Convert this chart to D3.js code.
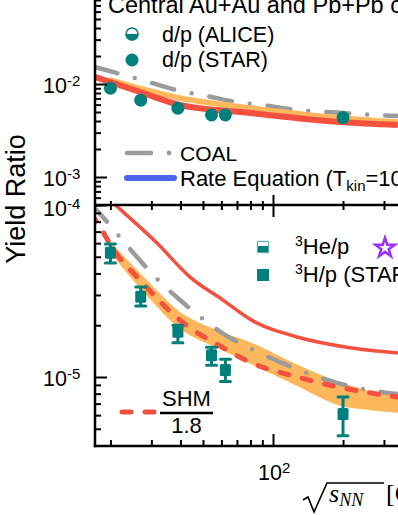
<!DOCTYPE html>
<html><head><meta charset="utf-8">
<script src="https://cdn.jsdelivr.net/npm/d3@7"></script>
<style>html,body{margin:0;padding:0;background:#fff;overflow:hidden}svg{display:block}</style>
</head><body>
<svg id="c" width="398" height="515"></svg>
<script>
// ---------- data ----------
const starEnergies = [20, 27, 39, 54.4, 62.4, 200];
const dpStar = [9.0e-3, 6.7e-3, 5.5e-3, 4.65e-3, 4.65e-3, 4.35e-3];
const h3pStar = [5.27e-5, 2.93e-5, 1.83e-5, 1.34e-5, 1.10e-5, 6.1e-6];
const h3pErrLo = [4.60e-5, 2.59e-5, 1.58e-5, 1.17e-5, 9.4e-6, 4.55e-6];
const h3pErrHi = [5.93e-5, 3.34e-5, 2.00e-5, 1.49e-5, 1.27e-5, 7.66e-6];

// top panel curves (d/p)
const topRedE = [17.2, 26.8, 39.8, 79.6, 194, 344];
const topRed  = [1.19e-2, 8.2e-3, 5.94e-3, 4.88e-3, 3.9e-3, 3.62e-3];
const topOrE  = [20, 39.8, 79.6, 194, 344];
const topOr   = [1.10e-2, 7.06e-3, 5.52e-3, 4.31e-3, 3.9e-3];
const topCoalE = [17.2, 21.4, 28.2, 38.3, 50.9, 69.4, 93.3, 126.8, 170.6, 229.6, 344];
const topCoal  = [1.52e-2, 1.31e-2, 1.08e-2, 8.61e-3, 7.52e-3, 6.4e-3, 5.87e-3, 5.25e-3, 5.0e-3, 4.76e-3, 4.53e-3];

// bottom panel curves (3H/p)
const botRedE = [17.2, 21, 31.7, 44, 61, 79.6, 130.6, 214, 344];
const botRed  = [1.27e-4, 1.0e-4, 6.01e-5, 3.81e-5, 2.80e-5, 2.17e-5, 1.69e-5, 1.48e-5, 1.38e-5];
const botCoalE = [16.5, 17.9, 21.4, 26.0, 31.7, 39.4, 50, 63.4, 82, 109, 144, 190, 251, 344];
const botCoal  = [1.0e-4, 8.98e-5, 6.78e-5, 4.99e-5, 3.72e-5, 2.84e-5, 2.17e-5, 1.73e-5, 1.44e-5, 1.21e-5, 1.04e-5, 9.22e-6, 8.46e-6, 7.96e-6];
const shmE = [16.5, 17.5, 20.6, 26.8, 39.8, 61, 79.6, 126.8, 200, 344];
const shm  = [8.9e-5, 7.96e-5, 5.51e-5, 3.66e-5, 2.14e-5, 1.48e-5, 1.22e-5, 1.0e-5, 8.63e-6, 7.65e-6];
const bandE  = [20, 26.8, 39.8, 61, 79.6, 126.8, 194, 253, 344];
const bandHi = [6.01e-5, 3.97e-5, 2.36e-5, 1.80e-5, 1.58e-5, 1.17e-5, 9.22e-6, 8.30e-6, 7.76e-6];
const bandLo = [5.33e-5, 3.34e-5, 1.93e-5, 1.44e-5, 1.21e-5, 8.98e-6, 6.87e-6, 6.51e-6, 6.26e-6];

const xTickVals = [20, 30, 40, 50, 60, 70, 80, 90, 100, 200, 300];
const topTickVals = [5e-4,6e-4,7e-4,8e-4,9e-4,1e-3,2e-3,3e-3,4e-3,5e-3,6e-3,7e-3,8e-3,9e-3,1e-2,2e-2,3e-2,4e-2,5e-2,6e-2,7e-2,8e-2,9e-2,1e-1];
const botTickVals = [5e-6,6e-6,7e-6,8e-6,9e-6,1e-5,2e-5,3e-5,4e-5,5e-5,6e-5,7e-5,8e-5,9e-5,1e-4];
const topLabels = [{v:1e-1,e:"-1"},{v:1e-2,e:"-2"},{v:1e-3,e:"-3"}];
const botLabels = [{v:1e-4,e:"-4"},{v:1e-5,e:"-5"}];

// ---------- style ----------
const TEAL = "#00807b", RED = "#f4503f", ORANGE = "#fdb75c", GRAY = "#9b9b9b", BLUE = "#4a63f0", PURPLE = "#9b30ff";
const FONT = "Liberation Sans, Arial, sans-serif";

const svg = d3.select("#c");
svg.append("rect").attr("width",398).attr("height",515).attr("fill","#fff");

const X0 = 95, X1 = 398, YT0 = -9, YMID = 205, YB1 = 446;
const x = d3.scaleLog().domain([Math.pow(10, 2 - 178/232.6), Math.pow(10, 2 + 125/232.6)]).range([X0, X1]);
const yTop = d3.scaleLog().domain([5e-4, 1e-1]).range([YMID, YT0]);
const yBot = d3.scaleLog().domain([Math.pow(10, -5 - 69/172), 1e-4]).range([YB1, YMID]);

const defs = svg.append("defs");
defs.append("clipPath").attr("id","clipTop").append("rect").attr("x",X0).attr("y",-20).attr("width",400).attr("height",YMID+20);
defs.append("clipPath").attr("id","clipBot").append("rect").attr("x",X0).attr("y",YMID).attr("width",400).attr("height",YB1-YMID);

const gTop = svg.append("g").attr("clip-path","url(#clipTop)");
const gBot = svg.append("g").attr("clip-path","url(#clipBot)");

function line(ys){ return d3.line().x(d=>x(d[0])).y(d=>ys(d[1])).curve(d3.curveMonotoneX); }
const zip = (a,b)=>a.map((v,i)=>[v,b[i]]);

// ---------- top panel ----------
gTop.append("path").attr("d", line(yTop)(zip(topCoalE, topCoal))).attr("fill","none")
  .attr("stroke",GRAY).attr("stroke-width",4.5).attr("stroke-linecap","round").attr("stroke-dasharray","23 18 0 18");
gTop.append("path").attr("d", line(yTop)(zip(topOrE, topOr))).attr("fill","none")
  .attr("stroke",ORANGE).attr("stroke-width",5.5).attr("stroke-linecap","round");
gTop.append("path").attr("d", line(yTop)(zip(topRedE, topRed))).attr("fill","none")
  .attr("stroke",RED).attr("stroke-width",6);
gTop.selectAll("circle.dp").data(zip(starEnergies, dpStar)).enter().append("circle")
  .attr("cx",d=>x(d[0])).attr("cy",d=>yTop(d[1])).attr("r",6.5).attr("fill",TEAL);

// ---------- bottom panel ----------
const area = d3.area().x(d=>x(d[0])).y0(d=>yBot(d[1])).y1(d=>yBot(d[2])).curve(d3.curveMonotoneX);
gBot.append("path").attr("d", area(bandE.map((e,i)=>[e,bandLo[i],bandHi[i]]))).attr("fill",ORANGE).attr("stroke",ORANGE).attr("stroke-width",1.5);
gBot.append("path").attr("d", line(yBot)(zip(botRedE, botRed))).attr("fill","none")
  .attr("stroke",RED).attr("stroke-width",3.5);
gBot.append("path").attr("d", line(yBot)(zip(botCoalE, botCoal))).attr("fill","none")
  .attr("stroke",GRAY).attr("stroke-width",4.5).attr("stroke-linecap","round").attr("stroke-dasharray","23 18 0 18");
gBot.append("path").attr("d", line(yBot)(zip(shmE, shm))).attr("fill","none")
  .attr("stroke",RED).attr("stroke-width",5).attr("stroke-linecap","round").attr("stroke-dasharray","9 14");

const pts = starEnergies.map((e,i)=>({e, v:h3pStar[i], lo:h3pErrLo[i], hi:h3pErrHi[i]}));
const pg = gBot.selectAll("g.pt").data(pts).enter().append("g");
pg.append("line").attr("x1",d=>x(d.e)).attr("x2",d=>x(d.e)).attr("y1",d=>yBot(d.lo)).attr("y2",d=>yBot(d.hi)).attr("stroke",TEAL).attr("stroke-width",3);
pg.append("line").attr("x1",d=>x(d.e)-5).attr("x2",d=>x(d.e)+5).attr("y1",d=>yBot(d.lo)).attr("y2",d=>yBot(d.lo)).attr("stroke",TEAL).attr("stroke-width",3).attr("stroke-linecap","round");
pg.append("line").attr("x1",d=>x(d.e)-5).attr("x2",d=>x(d.e)+5).attr("y1",d=>yBot(d.hi)).attr("y2",d=>yBot(d.hi)).attr("stroke",TEAL).attr("stroke-width",3).attr("stroke-linecap","round");
pg.append("rect").attr("x",d=>x(d.e)-5.5).attr("y",d=>yBot(d.v)-6).attr("width",11).attr("height",12).attr("rx",1.5).attr("fill",TEAL);

// ---------- axes ----------
const axG = svg.append("g");
function styleAxis(g, majorFn, majLen, minLen, dir){
  g.select(".domain").remove();
  g.selectAll(".tick line").attr("stroke","#000").attr("stroke-width",2)
   .each(function(d){ const L = majorFn(d) ? majLen : minLen; const s=d3.select(this);
     if(dir==="x") s.attr("x2", L); else s.attr("y2", L); });
  g.selectAll(".tick text").remove();
}
const isDecade = v => Math.abs(Math.log10(v) - Math.round(Math.log10(v))) < 1e-6;

const ylT = axG.append("g").attr("transform",`translate(${X0},0)`).call(d3.axisRight(yTop).tickValues(topTickVals).tickFormat(""));
styleAxis(ylT, isDecade, 12, 6, "x");
const ylB = axG.append("g").attr("transform",`translate(${X0},0)`).call(d3.axisRight(yBot).tickValues(botTickVals).tickFormat(""));
styleAxis(ylB, isDecade, 12, 6, "x");
const xMidUp = axG.append("g").attr("transform",`translate(0,${YMID})`).call(d3.axisTop(x).tickValues(xTickVals).tickFormat(""));
styleAxis(xMidUp, isDecade, -10, -4, "y");
const xMidDn = axG.append("g").attr("transform",`translate(0,${YMID})`).call(d3.axisBottom(x).tickValues(xTickVals).tickFormat(""));
styleAxis(xMidDn, isDecade, 12, 5, "y");
const xBot = axG.append("g").attr("transform",`translate(0,${YB1})`).call(d3.axisTop(x).tickValues(xTickVals).tickFormat(""));
styleAxis(xBot, isDecade, -12, -6, "y");
axG.append("line").attr("x1",X0).attr("x2",X0).attr("y1",-5).attr("y2",YB1+1.25).attr("stroke","#000").attr("stroke-width",2.5);
axG.append("line").attr("x1",X0).attr("x2",X1).attr("y1",YMID).attr("y2",YMID).attr("stroke","#000").attr("stroke-width",2.5);
axG.append("line").attr("x1",X0-1.25).attr("x2",X1).attr("y1",YB1).attr("y2",YB1).attr("stroke","#000").attr("stroke-width",2.5);

function powLabel(g, xx, yy, exp){
  const t = g.append("text").attr("x",xx).attr("y",yy).attr("font-family",FONT).attr("font-size",21.5).attr("fill","#000");
  t.append("tspan").text("10");
  t.append("tspan").attr("font-size",15).attr("dy",-7).text(exp);
  return t;
}
topLabels.forEach(l=>powLabel(svg, 43, yTop(l.v)+8.5, l.e));
botLabels.forEach(l=>powLabel(svg, 43, yBot(l.v)+(l.v===1e-4?11:9), l.e));
powLabel(svg, 258, 480, "2");

svg.append("text").attr("transform","translate(25,199) rotate(-90)").attr("text-anchor","middle")
  .attr("font-family",FONT).attr("font-size",27).text("Yield Ratio");
svg.append("path").attr("d","M303,500 L308,497 L314,512 L327,483 L384,483").attr("fill","none").attr("stroke","#000").attr("stroke-width",1.6);
const xl = svg.append("text").attr("x",329).attr("y",502).attr("font-family","Liberation Serif, serif").attr("font-size",26);
xl.append("tspan").attr("font-style","italic").text("s");
xl.append("tspan").attr("font-style","italic").attr("font-size",18).attr("dy",4).text("NN");
xl.append("tspan").attr("x",386).attr("dy",-4).text("[GeV]");

// ---------- legends ----------
const L = svg.append("g").attr("font-family",FONT).attr("font-size",21.5);
L.append("text").attr("x",108).attr("y",13).attr("font-size",23.5).text("Central Au+Au and Pb+Pb collisions");
L.append("circle").attr("cx",132).attr("cy",34).attr("r",6).attr("fill","#fff").attr("stroke",TEAL).attr("stroke-width",1.5);
L.append("path").attr("d",d3.arc()({innerRadius:0,outerRadius:6.5,startAngle:Math.PI/2,endAngle:Math.PI*1.5})).attr("transform","translate(132,34)").attr("fill",TEAL);
L.append("text").attr("x",162).attr("y",42).text("d/p (ALICE)");
L.append("circle").attr("cx",132).attr("cy",60).attr("r",6.5).attr("fill",TEAL);
L.append("text").attr("x",162).attr("y",67).text("d/p (STAR)");
L.append("line").attr("x1",127).attr("x2",151).attr("y1",153).attr("y2",153).attr("stroke",GRAY).attr("stroke-width",4.5).attr("stroke-linecap","round");
L.append("circle").attr("cx",169).attr("cy",153).attr("r",2.4).attr("fill",GRAY);
L.append("text").attr("x",180).attr("y",161).attr("font-size",21).text("COAL");
L.append("line").attr("x1",127).attr("x2",174).attr("y1",178).attr("y2",178).attr("stroke",BLUE).attr("stroke-width",6).attr("stroke-linecap","round");
const re = L.append("text").attr("x",180).attr("y",186).attr("font-size",22);
re.append("tspan").text("Rate Equation (T");
re.append("tspan").attr("font-size",15).attr("dy",5).text("kin");
re.append("tspan").attr("dy",-5).text("=100 MeV)");
L.append("rect").attr("x",257).attr("y",241).attr("width",12).attr("height",12).attr("fill",TEAL).attr("stroke","#bfe0de").attr("stroke-width",1);
L.append("rect").attr("x",258).attr("y",242).attr("width",10).attr("height",4).attr("fill","#fff");
const he = L.append("text").attr("x",295).attr("y",254).attr("font-size",22);
he.append("tspan").attr("font-size",14).attr("dy",-8).text("3");
he.append("tspan").attr("dy",8).text("He/p");
const star = d3.symbol().type(d3.symbolStar).size(115)();
L.append("path").attr("d",star).attr("transform","translate(385,248)").attr("fill","#fff").attr("stroke",PURPLE).attr("stroke-width",2.5);
L.append("rect").attr("x",257).attr("y",269).attr("width",12).attr("height",12).attr("fill",TEAL);
const h3 = L.append("text").attr("x",295).attr("y",282).attr("font-size",22);
h3.append("tspan").attr("font-size",14).attr("dy",-8).text("3");
h3.append("tspan").attr("dy",8).text("H/p (STAR)");
L.append("line").attr("x1",122).attr("x2",155).attr("y1",412).attr("y2",412).attr("stroke",RED).attr("stroke-width",5).attr("stroke-linecap","round").attr("stroke-dasharray","9 14");
L.append("line").attr("x1",160).attr("x2",213).attr("y1",413).attr("y2",413).attr("stroke","#000").attr("stroke-width",2.5);
L.append("text").attr("x",186.5).attr("y",406).attr("text-anchor","middle").attr("font-size",22).text("SHM");
L.append("text").attr("x",186.5).attr("y",433).attr("text-anchor","middle").attr("font-size",22).text("1.8");
</script>
</body></html>
